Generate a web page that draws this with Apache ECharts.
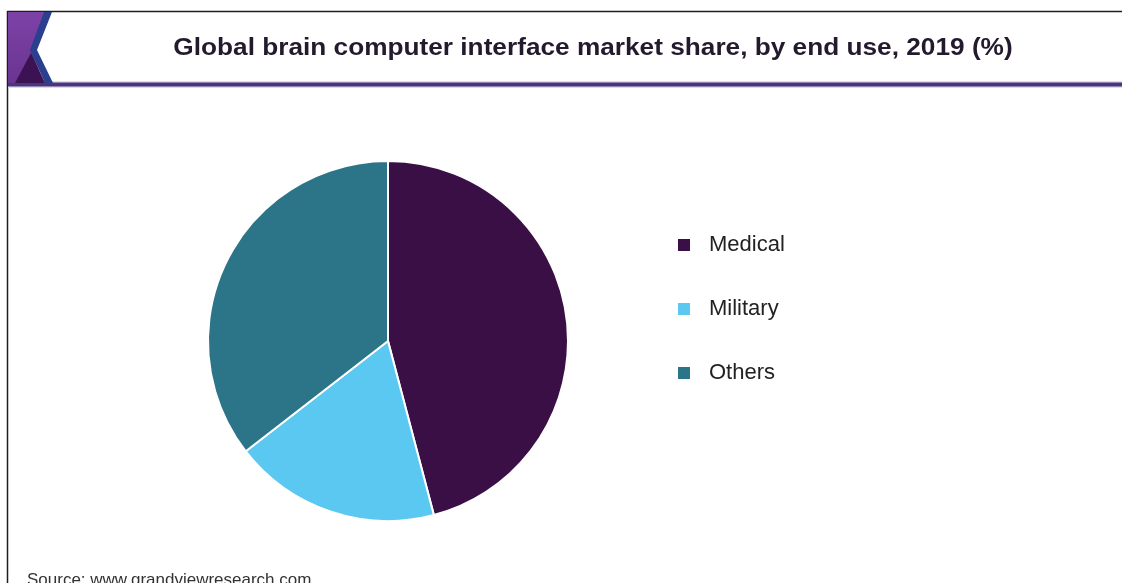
<!DOCTYPE html>
<html>
<head>
<meta charset="utf-8">
<title>Global brain computer interface market share, by end use, 2019 (%)</title>
<script src="https://cdn.jsdelivr.net/npm/echarts@6/dist/echarts.min.js"></script>
<style>
  html, body { margin: 0; padding: 0; background: #ffffff; }
  #chart { width: 1122px; height: 583px; }
</style>
</head>
<body>
<div id="chart"></div>
<script>
// End-use segments and their 2019 share (%)
const categories = ['Medical', 'Military', 'Others'];
const shares = [45.9, 18.6, 35.5];
const sliceColors = ['#3a0f45', '#5bc8f2', '#2c7488'];

const titleText = 'Global brain computer interface market share, by end use, 2019 (%)';
const sourceText = 'Source: www.grandviewresearch.com';

const chart = echarts.init(document.getElementById('chart'), null, { renderer: 'canvas' });

const pieData = categories.map((name, i) => ({
  name: name,
  value: shares[i],
  itemStyle: { color: sliceColors[i] }
}));

chart.setOption({
  backgroundColor: '#ffffff',
  animation: false,
  legend: {
    orient: 'vertical',
    left: 671,
    top: 229,
    icon: 'rect',
    itemWidth: 14,
    itemHeight: 14,
    itemGap: 42,
    selectedMode: false,
    data: categories,
    textStyle: {
      fontFamily: 'Liberation Sans, Arial, sans-serif',
      fontSize: 22,
      lineHeight: 22,
      color: '#222222',
      padding: [0, 0, 0, 13]
    }
  },
  series: [{
    type: 'pie',
    center: [388, 341],
    radius: [0, 180],
    startAngle: 90,
    clockwise: true,
    label: { show: false },
    labelLine: { show: false },
    emphasis: { disabled: true },
    itemStyle: { borderColor: '#ffffff', borderWidth: 2 },
    data: pieData
  }],
  graphic: [
    // outer frame: left and top rules
    { type: 'line', shape: { x1: 7.5, y1: 11, x2: 7.5, y2: 583 }, style: { stroke: '#1e1e1e', lineWidth: 1.5 } },
    { type: 'line', shape: { x1: 7, y1: 11.5, x2: 1122, y2: 11.5 }, style: { stroke: '#1e1e1e', lineWidth: 1.5 } },
    // header underline with soft lilac edges
    { type: 'rect', shape: { x: 8, y: 81, width: 1114, height: 7 }, style: { fill: '#e6d6f0' } },
    { type: 'rect', shape: { x: 8, y: 82.5, width: 1114, height: 4 }, style: { fill: '#45377a' } },
    // corner badge: purple panel, navy chevron, dark triangle
    { type: 'polygon', shape: { points: [[8, 12], [45, 12], [31, 50], [44, 83], [8, 83]] },
      style: { fill: new echarts.graphic.LinearGradient(0, 0, 0, 1, [
        { offset: 0, color: '#7d42a6' }, { offset: 1, color: '#6a3492' }]) } },
    { type: 'polygon', shape: { points: [[44, 12], [52, 12], [37, 50], [53, 83], [45, 83], [30, 50]] },
      style: { fill: '#2b3f8f' } },
    { type: 'polygon', shape: { points: [[31, 53], [15, 83], [45, 83]] },
      style: { fill: '#3d1253' } },
    // title, widened slightly to the header's letter width
    { type: 'text', x: 593, y: 49, scaleX: 1.14, scaleY: 1,
      style: { text: titleText, x: 0, y: 0, textAlign: 'center', textVerticalAlign: 'middle',
        font: 'bold 23px "Liberation Sans", Arial, sans-serif', fill: '#231a2e' } },
    // source note
    { type: 'text',
      style: { text: sourceText, x: 27, y: 572, textVerticalAlign: 'top',
        font: '17px "Liberation Sans", Arial, sans-serif', fill: '#333333' } }
  ]
});
</script>
</body>
</html>
